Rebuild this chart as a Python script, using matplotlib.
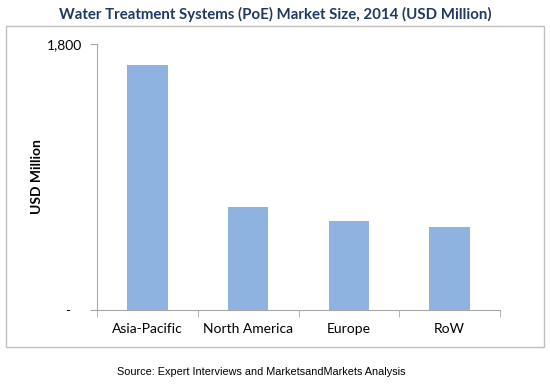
import matplotlib
matplotlib.use("Agg")
import matplotlib.pyplot as plt
from matplotlib.patches import Rectangle
from matplotlib.ticker import FixedLocator

# Data
regions = ["Asia-Pacific", "North America", "Europe", "RoW"]
market_size = [1658, 697, 602, 562]
y_ticks = [0, 1800]
y_tick_labels = ["-   ", "1,800"]

fig = plt.figure(figsize=(5.5, 3.84), dpi=100)

# outer chart border
fig.patches.append(Rectangle((0.011, 0.096), 0.978, 0.836, transform=fig.transFigure,
                             fill=False, edgecolor="#BFBFBF", linewidth=1.0))

ax = fig.add_axes([0.1764, 0.1927, 0.7327, 0.6927])
x = range(len(regions))
ax.bar(x, market_size, width=0.4, color="#8FB3E0", zorder=2)

ax.set_xlim(-0.5, len(regions) - 0.5)
ax.set_ylim(0, 1800)
ax.set_yticks(y_ticks)
ax.set_yticklabels(y_tick_labels, fontfamily="Lato", fontsize=10)
ax.set_xticks(list(x))
ax.set_xticklabels(regions, fontfamily="Lato", fontsize=10)
ax.tick_params(axis="x", length=0, pad=9)
ax.xaxis.set_minor_locator(FixedLocator([i - 0.5 for i in range(len(regions) + 1)]))
ax.tick_params(axis="x", which="minor", length=5, color="#A6A6A6", direction="out")
ax.tick_params(axis="y", length=5, color="#A6A6A6", pad=6)

for side in ["top", "right"]:
    ax.spines[side].set_visible(False)
for side in ["left", "bottom"]:
    ax.spines[side].set_color("#A6A6A6")

ax.set_ylabel("USD Million", fontfamily="Lato", fontweight="bold", fontsize=10)
ax.yaxis.set_label_coords(-0.133, 0.50)

fig.text(0.5, 0.963, "Water Treatment Systems (PoE) Market Size, 2014 (USD Million)",
         ha="center", va="center", fontsize=10.8, fontweight="bold",
         fontfamily="Lato", color="#1F3864")
fig.text(0.475, 0.031, "Source: Expert Interviews and MarketsandMarkets Analysis",
         ha="center", va="center", fontsize=7.8, fontfamily="Liberation Sans", color="#000000")

fig.savefig("out.png", dpi=100)
